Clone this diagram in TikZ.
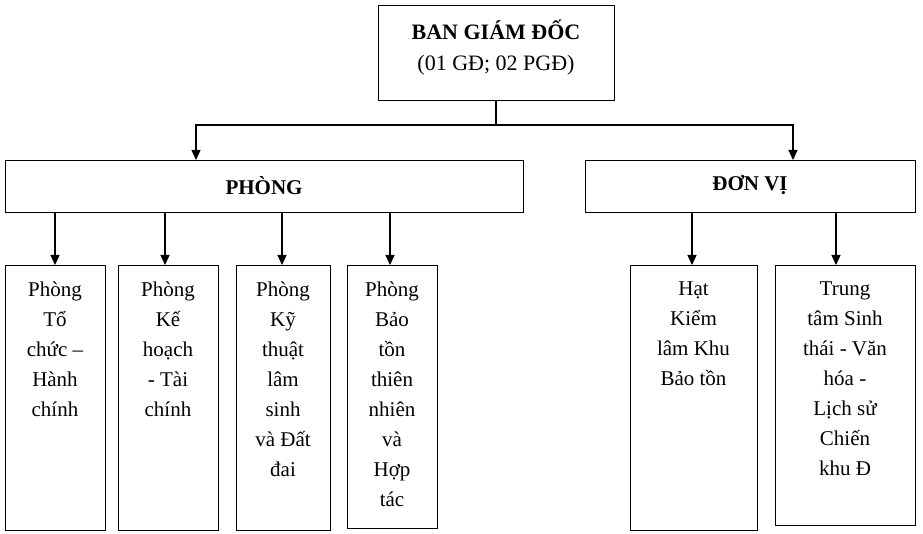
\documentclass[tikz,border=0pt]{standalone}
\usepackage{fontspec}
\setmainfont{Liberation Serif}
\usetikzlibrary{arrows.meta}
\begin{document}
\begin{tikzpicture}[x=1pt,y=-1pt,
 box/.style={draw,line width=0.8pt,inner sep=0pt},
 arr/.style={line width=1.3pt,-{Triangle[length=10pt,width=9pt]}},
 txt/.style={align=center,font=\fontsize{21}{30}\selectfont,anchor=north}]
\useasboundingbox (0,0) rectangle (923,534);
\node[box,minimum width=236pt,minimum height=95pt] (top) at (496,52.5) {};
\node[align=center,font=\fontsize{22}{31}\selectfont] at (496,48) {\textbf{BAN GIÁM ĐỐC}\\(01 GĐ; 02 PGĐ)};
\node[box,minimum width=518pt,minimum height=52pt,font=\fontsize{21}{25}\selectfont\bfseries] (ph) at (264,186) {PHÒNG};
\node[box,minimum width=330pt,minimum height=52pt,font=\fontsize{21}{25}\selectfont\bfseries] (dv) at (750,186) {ĐƠN VỊ\strut};
\coordinate (j) at (496,125);
\draw[line width=1.3pt] (top.south) -- (j);
\draw[arr] (j) -| (196,160);
\draw[arr] (j) -| (793,160);
\foreach \n/\xa/\xb/\yb/\ax/\t in {
 a/5/105/530/55/{Phòng\\Tổ\\chức –\\Hành\\chính},
 b/118/218/530/165/{Phòng\\Kế\\hoạch\\- Tài\\chính},
 c/236/330/530/282/{Phòng\\Kỹ\\thuật\\lâm\\sinh\\và Đất\\đai},
 d/347/437/528/390/{Phòng\\Bảo\\tồn\\thiên\\nhiên\\và\\Hợp\\tác},
 e/630/757/530/692/{Hạt\\Kiểm\\lâm Khu\\Bảo tồn},
 f/775/915/525/836/{Trung\\tâm Sinh\\thái - Văn\\hóa -\\Lịch sử\\Chiến\\khu Đ}}{
 \draw[line width=0.8pt] (\xa,265) rectangle (\xb,\yb);
 \node[txt] (\n) at ({(\xa+\xb)/2},278) {\t};
 \draw[arr] (\ax,212) -- (\ax,265);
}
\end{tikzpicture}
\end{document}
